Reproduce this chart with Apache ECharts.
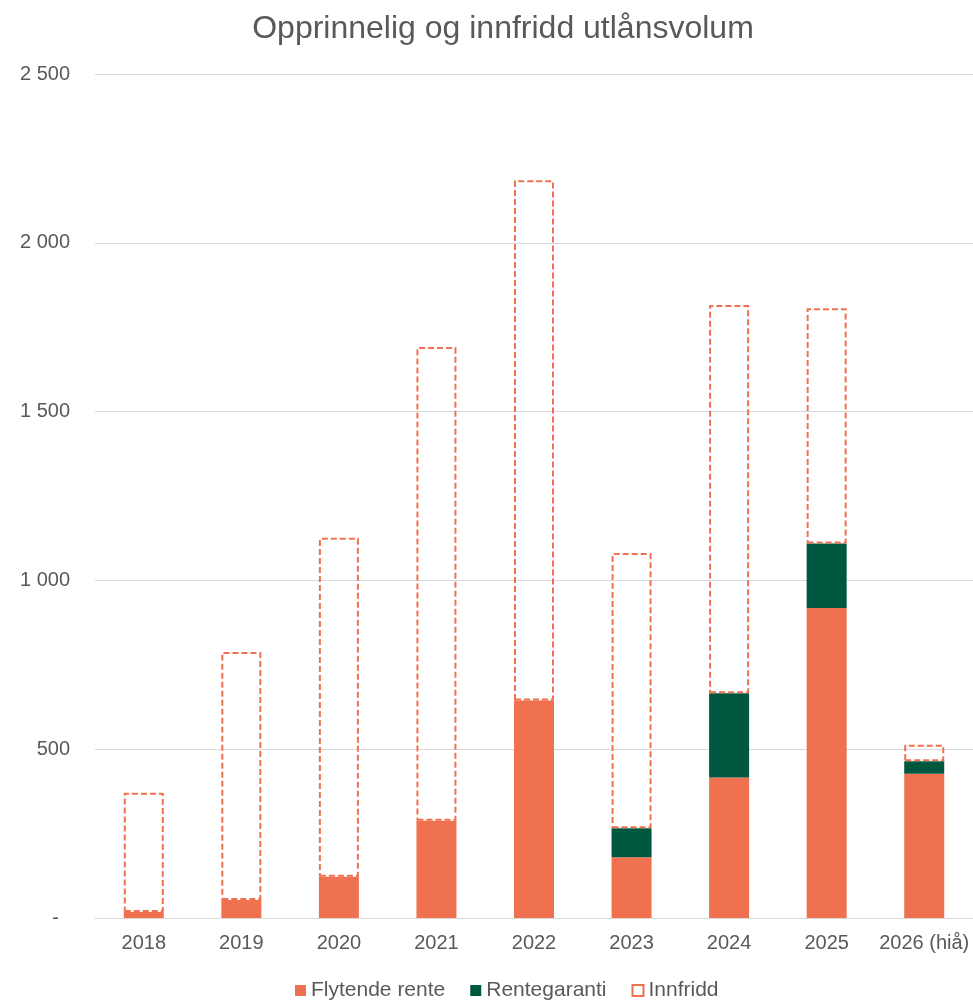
<!DOCTYPE html>
<html>
<head>
<meta charset="utf-8">
<script src="https://cdn.jsdelivr.net/npm/echarts@6/dist/echarts.min.js"></script>
<style>
  html, body { margin: 0; padding: 0; background: #fff; }
  #chart { width: 973px; height: 1000px; }
</style>
</head>
<body>
<div id="chart"></div>
<script>
// data
var years = ["2018", "2019", "2020", "2021", "2022", "2023", "2024", "2025", "2026 (hiå)"];
var flytendeRente = [18, 53, 122, 288, 644, 180, 416, 918, 427];
var rentegaranti = [0, 0, 0, 0, 0, 86, 250, 191, 37];
var innfridd = [353, 735, 1004, 1403, 1541, 815, 1150, 697, 49];

var orange = "#F07150";
var green = "#00573F";
var textColor = "#595959";
var font = "Liberation Sans, Arial, sans-serif";

function fmt(v) {
  if (v === 0) return "-  ";
  return String(v).replace(/\B(?=(\d{3})+(?!\d))/g, " ");
}

var chart = echarts.init(document.getElementById("chart"));
chart.setOption({
  animation: false,
  title: {
    text: "Opprinnelig og innfridd utlånsvolum",
    left: 498,
    textAlign: "center",
    top: 8,
    textStyle: { fontFamily: font, fontSize: 32, fontWeight: "normal", color: textColor }
  },
  legend: {
    top: 975,
    left: 290,
    itemWidth: 11,
    itemHeight: 11,
    itemGap: 25,
    icon: "rect",
    textStyle: { fontFamily: font, fontSize: 21, color: textColor },
    data: ["Flytende rente", "Rentegaranti", "Innfridd"]
  },
  grid: {
    left: 95,
    right: 0,
    top: 74,
    bottom: 82
  },
  xAxis: {
    type: "category",
    data: years,
    axisTick: { show: false },
    axisLine: { lineStyle: { color: "#d9d9d9", width: 1 } },
    axisLabel: { interval: 0, fontFamily: font, fontSize: 20, color: textColor, margin: 15 }
  },
  yAxis: {
    type: "value",
    min: 0,
    max: 2500,
    interval: 500,
    axisLine: { show: false },
    axisTick: { show: false },
    splitLine: { lineStyle: { color: "#d9d9d9", width: 1 } },
    axisLabel: { fontFamily: font, fontSize: 20, color: textColor, margin: 25, formatter: fmt }
  },
  series: [
    {
      name: "Flytende rente",
      type: "bar",
      stack: "total",
      barWidth: 40,
      itemStyle: { color: orange },
      data: flytendeRente
    },
    {
      name: "Rentegaranti",
      type: "bar",
      stack: "total",
      barWidth: 40,
      itemStyle: { color: green },
      data: rentegaranti
    },
    {
      name: "Innfridd",
      type: "bar",
      stack: "total",
      barWidth: 40,
      itemStyle: {
        color: "rgba(255,255,255,0)",
        borderColor: orange,
        borderWidth: 2,
        borderType: [6, 3]
      },
      data: innfridd
    }
  ]
});
</script>
</body>
</html>
